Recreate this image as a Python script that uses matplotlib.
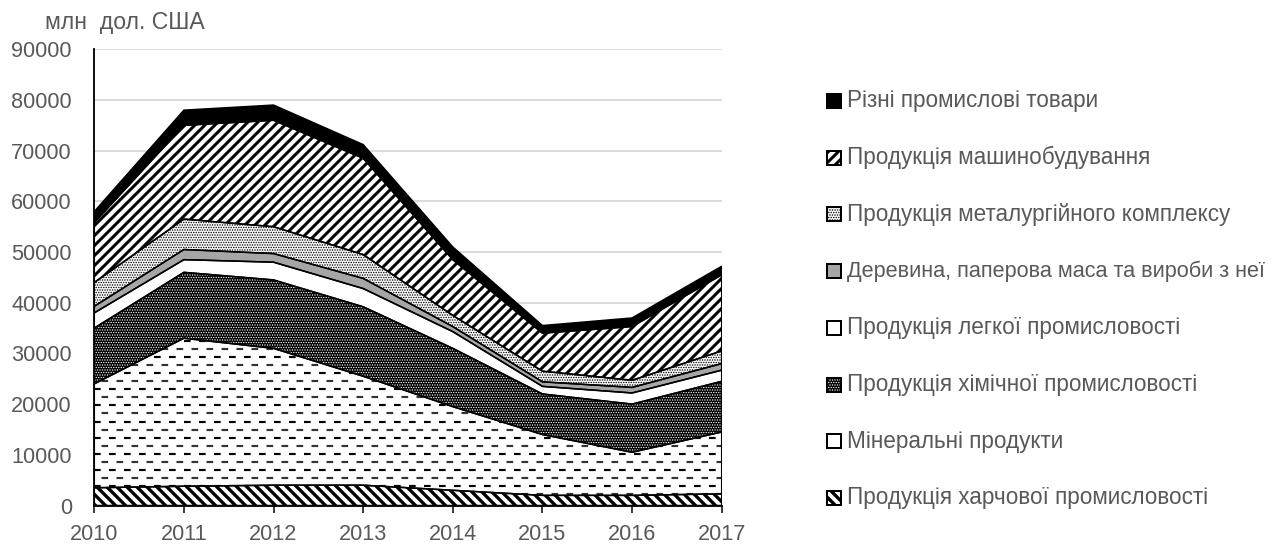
import numpy as np
import matplotlib
matplotlib.use("Agg")
import matplotlib.pyplot as plt
from matplotlib.patches import Rectangle

# Export structure by commodity group, million USD
years = [2010, 2011, 2012, 2013, 2014, 2015, 2016, 2017]
food = [3500, 3800, 4000, 4000, 3000, 2000, 2000, 2300]
mineral = [20500, 29200, 27000, 21500, 16500, 12000, 8500, 12200]
chemical = [11000, 13000, 13500, 13700, 11500, 8000, 9500, 10000]
light = [3000, 2500, 3500, 3600, 3300, 1500, 2200, 2200]
wood = [1300, 2000, 1700, 2000, 1000, 900, 1100, 1300]
metal = [4700, 6000, 5300, 4700, 2200, 2100, 1400, 2500]
machine = [11800, 18500, 21000, 19000, 11000, 7500, 10600, 15000]
misc = [2200, 3000, 3000, 2700, 2500, 1500, 1700, 1700]

labels = [
    "Продукція харчової промисловості",
    "Мінеральні продукти",
    "Продукція хімічної промисловості",
    "Продукція легкої промисловості",
    "Деревина, паперова маса та вироби з неї",
    "Продукція металургійного комплексу",
    "Продукція машинобудування",
    "Різні промислові товари",
]
y_ticks = [0, 10000, 20000, 30000, 40000, 50000, 60000, 70000, 80000, 90000]
unit_label = "млн  дол. США"

DPI = 120
W, H = 1271, 544
TEXT = "#595959"

plt.rcParams["font.family"] = ["Liberation Sans", "DejaVu Sans"]
plt.rcParams["lines.scale_dashes"] = False

fig = plt.figure(figsize=(W / DPI, H / DPI), dpi=DPI)
ax_l, ax_b = 94.3 / W, (H - 505.5) / H
ax_w, ax_h = (721.7 - 94.3) / W, (505.5 - 49.3) / H
ax = fig.add_axes([ax_l, ax_b, ax_w, ax_h])

# fill styles, bottom to top
styles = [
    dict(face="white", hatch="\\" * 4, hcolor="black", hlw=2.0),
    dict(face="white", hatch=None, hcolor="none", hlw=1.0, dashes=True),
    dict(face="black", hatch="." * 8, hcolor="white", hlw=0.5),
    dict(face="white", hatch=None, hcolor="none", hlw=1.0),
    dict(face="#a6a6a6", hatch=None, hcolor="none", hlw=1.0),
    dict(face="white", hatch="." * 8, hcolor="black", hlw=0.6),
    dict(face="white", hatch="/" * 4, hcolor="black", hlw=1.8),
    dict(face="black", hatch=None, hcolor="none", hlw=1.0),
]

series = [food, mineral, chemical, light, wood, metal, machine, misc]
cum = np.cumsum(np.array(series, dtype=float), axis=0)
stack = np.vstack([np.zeros(len(years)), cum])

ax.set_xlim(years[0], years[-1])
ax.set_ylim(y_ticks[0], y_ticks[-1])

px_per_unit = (ax_h * H) / (y_ticks[-1] - y_ticks[0])
row_step = 8.1 / px_per_unit


def make_fill(target, x, lo, hi, st):
    with plt.rc_context({"hatch.linewidth": st["hlw"]}):
        poly = target.fill_between(x, lo, hi, facecolor=st["face"],
                                   edgecolor=st["hcolor"], hatch=st["hatch"],
                                   linewidth=0, zorder=2)
        if hasattr(poly, "set_hatch_linewidth"):
            poly.set_hatch_linewidth(st["hlw"])
    return poly


for i, st in enumerate(styles):
    lo, hi = stack[i], stack[i + 1]
    poly = make_fill(ax, years, lo, hi, st)
    if st.get("dashes"):
        path = poly.get_paths()[0]
        for k, yy in enumerate(np.arange(row_step * 0.36, y_ticks[-1], row_step)):
            off = 0 if k % 2 == 0 else 4.5
            ln, = ax.plot([years[0], years[-1]], [yy, yy],
                          color="black" if k % 2 == 0 else "#333333",
                          lw=1.3, linestyle=(off, (4.0, 5.0)), zorder=3)
            ln.set_clip_path(path, ax.transData)
    ax.fill_between(years, lo, hi, facecolor="none", edgecolor="black",
                    linewidth=0.9, zorder=4)

ax.set_xticks(years)
ax.set_xticklabels([str(y) for y in years])
ax.set_yticks(y_ticks)
ax.set_yticklabels([str(v) for v in y_ticks])
ax.tick_params(axis="x", length=4.2, width=0.9, color="black", pad=7,
               labelsize=13, labelcolor=TEXT)
ax.tick_params(axis="y", length=0, pad=13.5, labelsize=13, labelcolor=TEXT)
for s in ("top", "right"):
    ax.spines[s].set_visible(False)
for s in ("left", "bottom"):
    ax.spines[s].set_color("black")
    ax.spines[s].set_linewidth(1.1)
    ax.spines[s].set_zorder(5)
ax.yaxis.grid(True, color="#d9d9d9", linewidth=1.1)
ax.set_axisbelow(True)

fig.text(45 / W, 1 - 23 / H, unit_label, ha="left", va="center",
         fontsize=13.8, color=TEXT)

# legend, top entry is the top band
box = 14
leg_x = 827
leg_y0, leg_dy = 101, 56.7
legend_size = 13.5
right_limit = W - 6
renderer = fig.canvas.get_renderer()
for j, idx in enumerate(range(len(labels) - 1, -1, -1)):
    st = styles[idx]
    cy = leg_y0 + j * leg_dy
    with plt.rc_context({"hatch.linewidth": st["hlw"]}):
        r = Rectangle((leg_x / W, 1 - (cy + box / 2) / H), box / W, box / H,
                      transform=fig.transFigure, facecolor=st["face"],
                      edgecolor=st["hcolor"] if st["hatch"] else "black",
                      hatch=st["hatch"], linewidth=0 if st["hatch"] else 1.2)
    fig.add_artist(r)
    if st["hatch"]:
        fig.add_artist(Rectangle((leg_x / W, 1 - (cy + box / 2) / H), box / W, box / H,
                                 transform=fig.transFigure, facecolor="none",
                                 edgecolor="black", linewidth=1.2))
    t = fig.text((leg_x + 20) / W, 1 - cy / H, labels[idx], ha="left", va="center",
                 fontsize=legend_size, color=TEXT)
    ext = t.get_window_extent(renderer=renderer)
    if ext.x1 > right_limit:
        t.set_fontsize(legend_size * (right_limit - ext.x0) / ext.width)

fig.savefig("out.png", dpi=DPI)
